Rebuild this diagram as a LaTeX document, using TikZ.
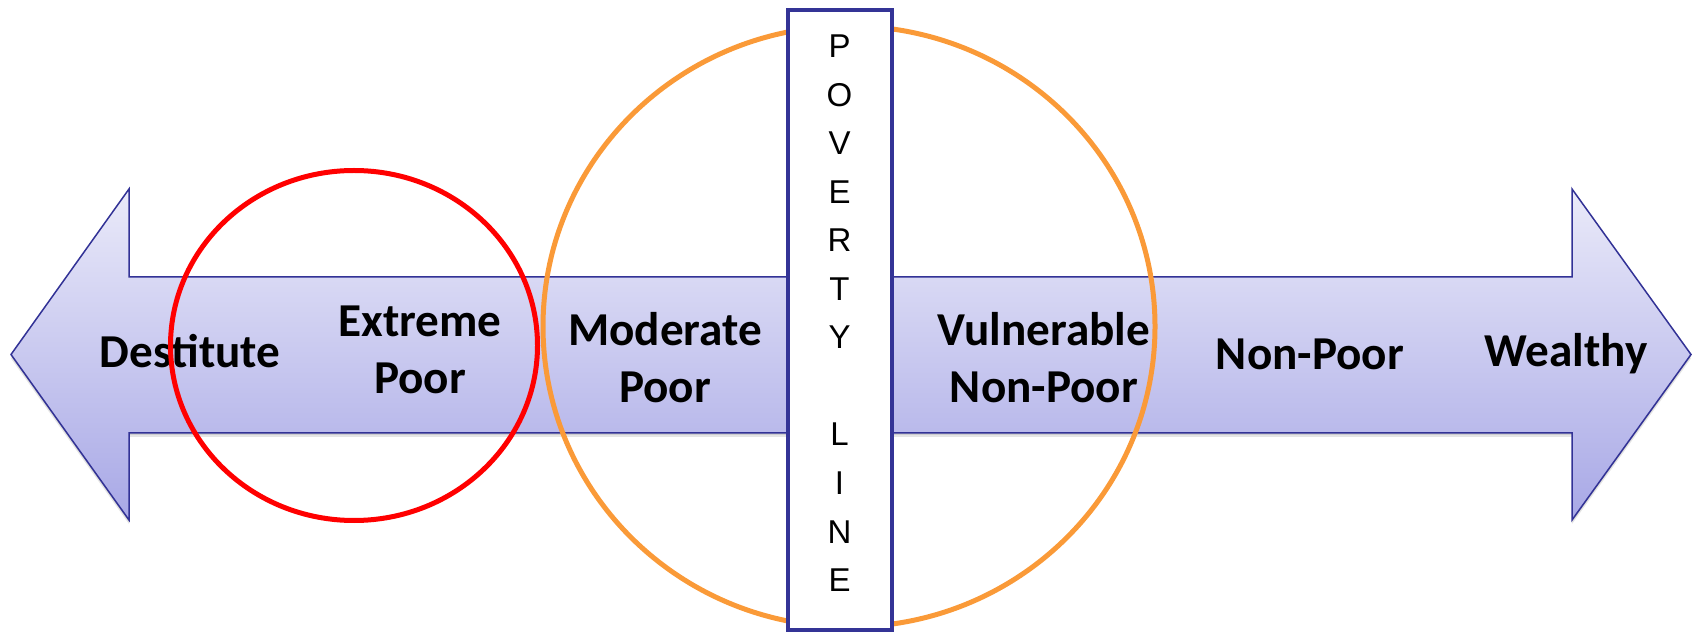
\documentclass[tikz,border=0pt]{standalone}
\usepackage{fontspec}
\setmainfont{Carlito}
\newfontfamily\linefont{Liberation Sans}

\definecolor{bandtop}{RGB}{234,234,249}
\definecolor{bandbot}{RGB}{168,168,230}
\definecolor{bandedge}{RGB}{50,50,150}
\definecolor{boxedge}{RGB}{52,52,150}
\definecolor{ringred}{RGB}{255,0,0}
\definecolor{ringorange}{RGB}{250,154,56}

% outline of the double-headed income arrow (pixel units, y downwards)
\def\bandpath{(11,354.5) -- (129,189) -- (129,277) -- (1572,277) -- (1572,189)
  -- (1691,354.5) -- (1572,520) -- (1572,433) -- (129,433) -- (129,520) -- cycle}

\begin{document}
\begin{tikzpicture}[x=0.5pt,y=-0.5pt,
    band/.style={draw=bandedge, line width=0.75pt, top color=bandtop, bottom color=bandbot},
    lab/.style={font=\bfseries\fontsize{23.6}{28.6}\selectfont, align=center, inner sep=0pt, text=black},
    ring/.style={line width=2.5pt},
    linebox/.style={draw=boxedge, fill=white, line width=2pt, rectangle,
      minimum width=52pt, minimum height=310pt, inner sep=0pt},
    linetext/.style={font=\linefont\fontsize{16.5}{24.27}\selectfont, align=center, inner sep=0pt}]
  \useasboundingbox (0,0) rectangle (1696,635);

  % soft shadow under the arrow
  \begin{scope}[yshift=-2pt]
    \fill[black, opacity=0.10] \bandpath;
  \end{scope}
  \begin{scope}[yshift=-1pt]
    \fill[black, opacity=0.10] \bandpath;
  \end{scope}

  % the arrow itself
  \path[band] \bandpath;

  % categories along the arrow
  \node[lab, anchor=base] (destitute) at (190,368) {Destitute};
  \node[lab] (extreme) at (420,350) {Extreme\\Poor};
  \node[lab] (moderate) at (665,358) {Moderate\\Poor};
  \node[lab] (vulnerable) at (1044,358) {Vulnerable\\Non-Poor};
  \node[lab, anchor=base] (nonpoor) at (1310,370) {Non-Poor};
  \node[lab, anchor=base] (wealthy) at (1566,367) {Wealthy};

  % groupings
  \draw[ring, ringred] (354,345.5) ellipse [x radius=183.5, y radius=175];
  \draw[ring, ringorange] (849,326.5) ellipse [x radius=306, y radius=300.5];

  % poverty line
  \node[linebox] (plbox) at (839.5,320) {};
  \node[linetext, anchor=north] (pltext) at (839.5,34.5)
    {P\\O\\V\\E\\R\\T\\Y\\\mbox{}\\L\\I\\N\\E};
\end{tikzpicture}
\end{document}
